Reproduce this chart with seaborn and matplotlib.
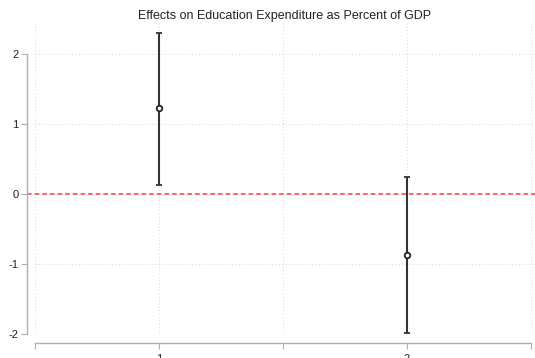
import matplotlib
matplotlib.use('Agg')
import matplotlib.pyplot as plt
import seaborn as sns
import pandas as pd
from matplotlib.ticker import FixedLocator

# Estimates
positions = [1, 2]
coefs = [1.23, -0.87]
ci_low = [0.13, -1.99]
ci_high = [2.30, 0.24]
yticks = [-2, -1, 0, 1, 2]
xtick_labels = ['1', '2']
title = 'Effects on Education Expenditure as Percent of GDP'

df = pd.DataFrame({'pos': positions, 'coef': coefs, 'lo': ci_low, 'hi': ci_high})

sns.set_style('white')
plt.rcParams['font.family'] = ['Liberation Sans', 'DejaVu Sans']

fig = plt.figure(figsize=(5.35, 3.58), dpi=100)
ax = fig.add_axes([35 / 535, 24 / 358, 500 / 535, 312 / 358])

# confidence intervals
ax.errorbar(df['pos'], df['coef'],
            yerr=[df['coef'] - df['lo'], df['hi'] - df['coef']],
            fmt='none', ecolor='#333333', elinewidth=1.5, capsize=2.5, capthick=1.3, zorder=3)
sns.scatterplot(data=df, x='pos', y='coef', ax=ax, marker='o', s=16,
                facecolor='white', edgecolor='#222222', linewidth=1.3, zorder=4)

ax.axhline(0, xmin=-0.016, xmax=1, color='#ff3b3b', linestyle=(0, (3, 2)),
           linewidth=1.1, clip_on=False, zorder=2)

ax.set_xlim(0.5, 2.516)
ax.set_ylim(-2, 2.46)
ax.set_xticks(positions)
ax.set_xticklabels(xtick_labels)
ax.xaxis.set_minor_locator(FixedLocator([0.5, 1.5, 2.5]))
ax.set_yticks(yticks)
ax.set_yticklabels([str(t) for t in yticks])

ax.grid(True, which='both', axis='x', color='#dcdcdc', linestyle=(0, (1, 2)), linewidth=0.8)
ax.grid(True, which='major', axis='y', color='#dcdcdc', linestyle=(0, (1, 2)), linewidth=0.8)

for side in ['top', 'right']:
    ax.spines[side].set_visible(False)
# offsets are in points (0.72 pt per pixel at 100 dpi)
ax.spines['left'].set_position(('outward', 5.8))
ax.spines['left'].set_bounds(-2, 2)
ax.spines['bottom'].set_position(('outward', 6.5))
ax.spines['bottom'].set_bounds(0.5, 2.5)
for side in ['left', 'bottom']:
    ax.spines[side].set_color('#b0b0b0')
    ax.spines[side].set_linewidth(1.0)

ax.tick_params(axis='both', which='both', direction='out', length=4, width=0.8,
               color='#b0b0b0', labelsize=8, labelcolor='#222222', pad=2,
               bottom=True, left=True)
ax.tick_params(axis='x', which='both', pad=4)

ax.set_xlabel('')
ax.set_ylabel('')
ax.set_title(title, fontsize=9, color='#222222', pad=1)

fig.savefig('out.png', dpi=100)
